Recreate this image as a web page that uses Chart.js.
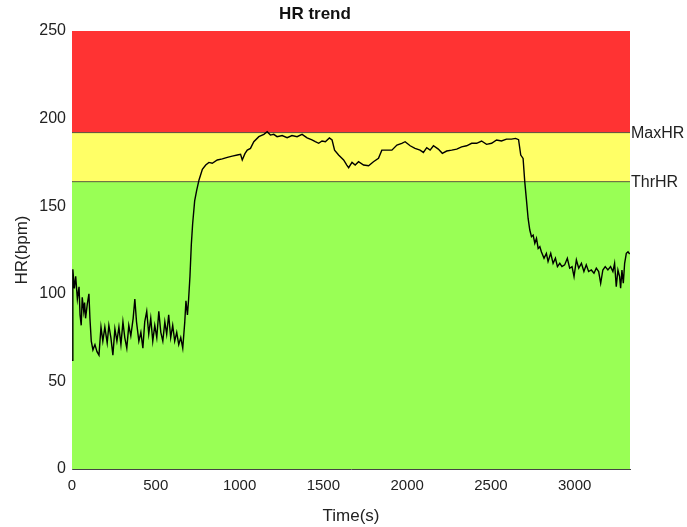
<!DOCTYPE html>
<html>
<head>
<meta charset="utf-8">
<script src="https://cdn.jsdelivr.net/npm/chart.js@4/dist/chart.umd.min.js"></script>
<style>
html,body{margin:0;padding:0;background:#fff;}
#wrap{width:687px;height:527px;position:relative;}
</style>
</head>
<body>
<div id="wrap"><canvas id="c" width="687" height="527"></canvas></div>
<script>
// ---- data ----
const timeS = [0,5,14,22,32,42,48,55,61,70,75,81,91,101,107,115,125,137,149,161,173,184,196,210,220,232,244,256,268,280,292,304,315,327,339,351,365,375,385,399,411,423,434,446,458,470,482,494,506,518,530,542,554,565,577,589,601,613,625,637,649,661,673,680,689,696,704,712,720,732,744,758,778,798,817,837,867,897,927,956,986,1006,1016,1032,1046,1065,1085,1115,1145,1165,1184,1204,1224,1254,1284,1313,1343,1373,1403,1432,1452,1472,1492,1512,1536,1552,1567,1591,1621,1640,1651,1671,1690,1710,1740,1770,1799,1829,1849,1879,1909,1939,1968,1988,2018,2047,2077,2097,2117,2137,2157,2186,2210,2236,2266,2296,2325,2355,2385,2415,2444,2474,2504,2534,2563,2593,2623,2647,2665,2678,2692,2702,2712,2722,2732,2742,2752,2762,2772,2782,2792,2801,2817,2831,2841,2857,2871,2885,2897,2911,2924,2940,2956,2970,2984,2996,3010,3024,3040,3055,3069,3083,3099,3115,3129,3143,3155,3168,3182,3198,3214,3228,3238,3248,3258,3268,3274,3282,3290,3298,3308,3318,3328];
const hrBpm = [62,114,103,110,97,104,88,82,98,90,95,86,94,100,86,73,68,71,67,65,81,73,81,72,82,75,65,80,73,81,71,84,75,69,82,76,86,97,84,73,78,69,84,90,77,86,73,82,75,90,78,73,84,77,88,75,82,73,78,71,75,69,84,96,88,97,110,128,140,153,159,165,171,173.5,175,174.5,176.4,177,177.9,178.6,179.2,179.6,176.4,180,182,183,186.8,189.7,191,192.5,190.6,191,189.7,190.3,189.1,190.3,189.7,191,189,187.8,186.8,185.9,187.2,186.8,189,187.8,182,179.2,176.4,173.5,172,175,173.5,175.4,173.5,173.1,175.4,177.3,182,182,182,184.9,185.9,186.8,184.5,183,182,180.7,183.4,182,184.5,182.6,180.2,181.5,182,182.6,183.9,184.5,185.9,185.9,187.2,185.3,185.9,187.8,187.2,188.3,188.3,188.7,188,179.2,177.3,163.9,153.6,143,136.4,132.6,133.5,128.8,131.6,125.9,126.9,124,120.3,123.1,118.4,123.1,117.4,120.3,115.5,117.4,115.5,116.5,120.3,114.6,115.5,109.8,119.3,114.6,117.4,112.7,116.5,112.7,113.6,111.7,114.6,112.7,106,113.6,115.5,113.6,115.5,112.7,117.4,104.1,113.6,109.8,103.2,113.6,106,117.4,123.1,124,122.7];
const zoneLimits = [164, 192, 250];          // ThrHR, MaxHR, top
const zoneLabels = ['ThrHR', 'MaxHR'];
const xTicks = [0, 500, 1000, 1500, 2000, 2500, 3000];
const xMax = 3330;
const yTicks = [0, 50, 100, 150, 200, 250];

const FONT = "'Liberation Sans', Arial, sans-serif";
const hrPoints = timeS.map((t, i) => ({x: t, y: hrBpm[i]}));
const band = v => [{x: 0, y: v}, {x: xMax, y: v}];

const zoneLabelPlugin = {
  id: 'zoneLabels',
  afterDraw(chart) {
    const ctx = chart.ctx, ys = chart.scales.y, area = chart.chartArea;
    ctx.save();
    ctx.font = '16px ' + FONT;
    ctx.fillStyle = '#222';
    ctx.textAlign = 'left';
    ctx.textBaseline = 'middle';
    zoneLabels.forEach((lbl, i) => {
      ctx.fillText(lbl, area.right + 1, ys.getPixelForValue(zoneLimits[i]) + 1);
    });
    ctx.restore();
  }
};

new Chart(document.getElementById('c'), {
  type: 'line',
  data: {
    datasets: [
      {data: band(zoneLimits[0]), fill: 'origin', backgroundColor: 'rgb(153,255,85)', borderColor: '#5a5a3a', borderWidth: 1, pointRadius: 0, order: 3},
      {data: band(zoneLimits[1]), fill: '-1', backgroundColor: 'rgb(255,255,102)', borderColor: '#5a4a3a', borderWidth: 1, pointRadius: 0, order: 4},
      {data: band(zoneLimits[2]), fill: '-1', backgroundColor: 'rgb(255,51,51)', borderColor: 'rgba(0,0,0,0)', borderWidth: 0, pointRadius: 0, order: 5},
      {data: hrPoints, borderColor: '#000', borderWidth: 1.4, pointRadius: 0, fill: false, tension: 0, order: 0}
    ]
  },
  options: {
    responsive: false,
    animation: false,
    events: [],
    layout: {padding: {left: 0, right: 57, top: 0, bottom: 0}},
    plugins: {
      legend: {display: false},
      tooltip: {enabled: false},
      title: {display: true, text: 'HR trend', color: '#111', font: {family: FONT, size: 17, weight: 'bold'}, padding: {top: 4, bottom: 6.6}}
    },
    scales: {
      x: {
        type: 'linear', min: 0, max: xMax,
        afterFit: s => { s.height = 58; },
        afterBuildTicks: s => { s.ticks = xTicks.map(v => ({value: v})); },
        grid: {display: false, drawTicks: false},
        border: {display: true, color: '#444', width: 1},
        ticks: {color: '#222', font: {family: FONT, size: 15}, padding: 8, maxRotation: 0, callback: v => String(v)},
        title: {display: true, text: 'Time(s)', color: '#222', font: {family: FONT, size: 17}, padding: {top: 4, bottom: 0}}
      },
      y: {
        type: 'linear', min: 0, max: 250,
        afterFit: s => { s.width = 72; },
        afterBuildTicks: s => { s.ticks = yTicks.map(v => ({value: v})); },
        grid: {display: false, drawTicks: false},
        border: {display: true, color: '#666', width: 1, dash: [1, 1]},
        ticks: {color: '#222', font: {family: FONT, size: 16}, padding: 6, callback: v => String(v)},
        title: {display: true, text: 'HR(bpm)', color: '#222', font: {family: FONT, size: 17}, padding: {top: 12, bottom: 0}}
      }
    }
  },
  plugins: [zoneLabelPlugin]
});
</script>
</body>
</html>
